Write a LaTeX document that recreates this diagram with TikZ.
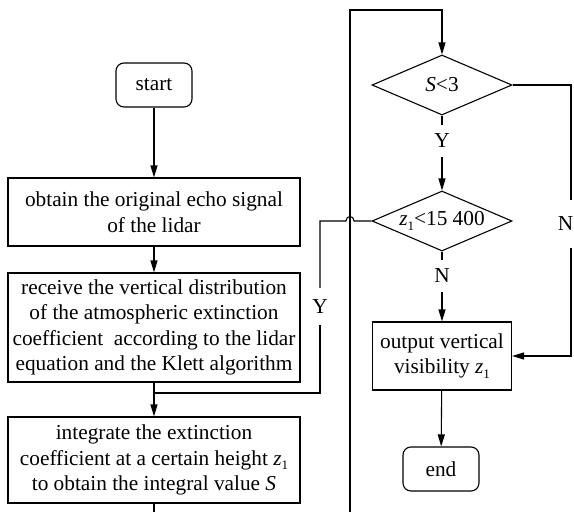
\documentclass[tikz,border=0pt]{standalone}
\usepackage{fontspec}
\setmainfont{Liberation Serif}
\usetikzlibrary{arrows.meta,shapes.geometric}
\newcommand{\zsub}{\textit{z}\raisebox{-0.22em}{\fontsize{13}{13}\selectfont 1}}
\begin{document}
\begin{tikzpicture}[x=1pt,y=-1pt,
  base/.style={draw, line width=1.1pt, inner sep=0pt, align=center, font=\fontsize{21.3}{25.5}\selectfont},
  procbox/.style={base, rectangle},
  termbox/.style={base, rectangle, rounded corners=8pt, minimum width=76pt, minimum height=44pt},
  decbox/.style={base, diamond, minimum width=140pt, minimum height=60pt},
  lab/.style={inner sep=0pt, font=\fontsize{21.3}{25.5}\selectfont},
  conn/.style={line width=1.1pt},
  arr/.style={conn, -{Triangle[length=12pt,width=7pt]}}]
\useasboundingbox (0,0) rectangle (574,512);
% left column
\node[termbox] (start) at (154,85) {start};
\node[procbox, minimum width=292pt, minimum height=68pt] (box1) at (154,212)
  {obtain the original echo signal\\of the lidar};
\node[procbox, minimum width=292pt, minimum height=109pt] (box2) at (154,327.5)
  {receive the vertical distribution\\of the atmospheric extinction\\coefficient~ according to the lidar\\equation and the Klett algorithm};
\node[procbox, minimum width=292pt, minimum height=86pt] (box3) at (154,460)
  {integrate the extinction\\coefficient at a certain height \zsub\\to obtain the integral value \textit{S}};
% right column
\node[decbox] (d1) at (442,85) {\makebox[0pt]{\textit{S}<3}};
\node[decbox] (d2) at (442,221) {\makebox[0pt]{\zsub<15 400}};
\node[procbox, minimum width=139pt, minimum height=68pt] (out) at (442,356)
  {output vertical\\visibility \zsub};
\node[termbox] (stop) at (441,469) {end};
% labels
\node[lab, minimum height=32pt] (y1) at (442,141) {Y};
\node[lab, minimum height=32pt] (n1) at (442,276) {N};
\node[lab, minimum height=48pt] (n2) at (571,224) {};
\node[lab] (n2t) at (565.5,224) {N};
\node[lab, minimum height=37pt] (y2) at (320,306.5) {Y};
% coordinates
\coordinate (j) at (154,393);
\coordinate (b1) at (154,514);
\coordinate (b2) at (350,514);
\coordinate (t1) at (350,10);
\coordinate (t2) at (442,10);
\coordinate (h1) at (354,221);
\coordinate (h2) at (346,221);
\coordinate (l1) at (320,221);
% connectors
\draw[arr] (start) -- (box1);
\draw[arr] (box1) -- (box2);
\draw[conn] (box2) -- (j);
\draw[arr] (j) -- (box3);
\draw[conn] (box3) -- (b1);
\draw[arr] (b2) -- (t1) -- (t2) -- (d1.north);
\draw[conn] (d1) -- (y1);
\draw[arr] (y1) -- (d2);
\draw[conn] (d2) -- (n1);
\draw[arr] (n1) -- (out);
\draw[arr] (out) -- (stop);
\draw[conn] (d1.east) -| (n2.north);
\draw[arr] (n2.south) |- (out.east);
\draw[conn] (d2.west) -- (h1) .. controls (354,215) and (346,215) .. (h2) -- (l1) -- (y2.north);
\draw[conn] (y2.south) |- (j);
\end{tikzpicture}
\end{document}
